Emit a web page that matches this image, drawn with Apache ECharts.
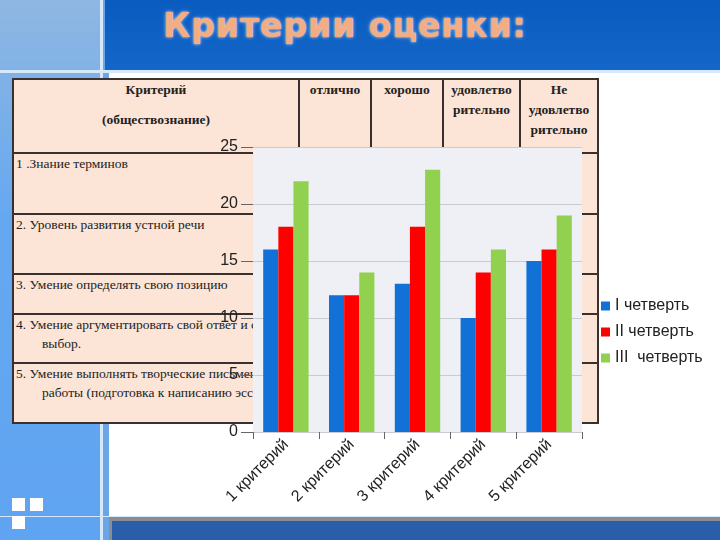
<!DOCTYPE html>
<html>
<head>
<meta charset="utf-8">
<script src="https://cdn.jsdelivr.net/npm/echarts@6/dist/echarts.min.js"></script>
<style>
  html, body { margin: 0; padding: 0; }
  body { width: 720px; height: 540px; position: relative; overflow: hidden; background: #fff; }
  .abs { position: absolute; }
  #title { left: 105px; top: 6px; width: 480px; text-align: center; font-family: "DejaVu Sans", sans-serif; font-weight: bold;
           font-size: 33px; color: #f3ad85; letter-spacing: 1px; text-shadow: 0 0 2px #ffd9c2, 0 0 4px #7fb2ee; }
  table { position: absolute; left: 12px; top: 78px; width: 585px; table-layout: fixed; border-collapse: collapse; background: #fce4d6;
          font-family: "Liberation Serif", "DejaVu Serif", serif; font-size: 13.5px; color: #222; }
  td { border: 2px solid #3a3030; vertical-align: top; padding: 0 2px; line-height: 19px; }
  th { border: 2px solid #3a3030; vertical-align: top; padding: 0 2px; line-height: 20px; font-weight: bold; font-size: 13.5px; text-align: center; }
  .hang { padding-left: 28px; text-indent: -26px; }
  #main { position: absolute; left: 0; top: 0; width: 720px; height: 540px; }
</style>
</head>
<body>
<div class="abs" style="left:0;top:0;width:100px;height:540px;background:linear-gradient(#8fb7e2,#66a8f0 40%,#5fa4f2);"></div>
<div class="abs" style="left:100px;top:0;width:3px;height:540px;background:#d8e8fb;"></div>
<div class="abs" style="left:103px;top:0;width:6px;height:540px;background:#6aa6e6;"></div>
<div class="abs" style="left:105px;top:0;width:615px;height:70px;background:linear-gradient(#0a5bbf,#1466c8);"></div>
<div class="abs" style="left:0;top:70px;width:720px;height:3px;background:#d8e8fb;"></div>
<div class="abs" style="left:0;top:516px;width:720px;height:1px;background:#d8e8fb;"></div>
<div class="abs" style="left:109px;top:517px;width:611px;height:23px;background:#8a8d92;"></div>
<div class="abs" style="left:112px;top:521px;width:608px;height:19px;background:#2a5eab;"></div>
<div class="abs" style="left:12px;top:498px;width:13px;height:13px;background:#fff;"></div>
<div class="abs" style="left:30px;top:498px;width:13px;height:13px;background:#fff;"></div>
<div class="abs" style="left:12px;top:516px;width:13px;height:13px;background:#fff;"></div>
<div id="title" class="abs">Критерии оценки:</div>

<table>
  <colgroup><col style="width:286px"><col style="width:72px"><col style="width:72px"><col style="width:77px"><col style="width:78px"></colgroup>
  <tr style="height:74px">
    <th><div>Критерий</div><div style="margin-top:10px">(обществознание)</div></th>
    <th>отлично</th>
    <th>хорошо</th>
    <th>удовлетво<br>рительно</th>
    <th>Не<br>удовлетво<br>рительно</th>
  </tr>
  <tr style="height:61px"><td>1 .Знание терминов</td><td></td><td></td><td></td><td></td></tr>
  <tr style="height:60px"><td>2. Уровень развития устной речи</td><td></td><td></td><td></td><td></td></tr>
  <tr style="height:40px"><td>3. Умение определять свою позицию</td><td></td><td></td><td></td><td></td></tr>
  <tr style="height:49px"><td class="hang">4. Умение аргументировать свой ответ и сделать выбор.</td><td></td><td></td><td></td><td></td></tr>
  <tr style="height:60px"><td class="hang">5. Умение выполнять творческие письменные работы (подготовка к написанию эссе)</td><td></td><td></td><td></td><td></td></tr>
</table>

<div id="main"></div>
<script>
var categories = ['1 критерий', '2 критерий', '3 критерий', '4 критерий', '5 критерий'];
var seriesNames = ['I четверть', 'II четверть', 'III  четверть'];
var q1 = [16, 12, 13, 10, 15];
var q2 = [18, 12, 18, 14, 16];
var q3 = [22, 14, 23, 16, 19];
var colors = ['#1271d6', '#ff0000', '#92d050'];

var myChart = echarts.init(document.getElementById('main'));
myChart.setOption({
  animation: false,
  color: colors,
  textStyle: { fontFamily: 'Liberation Sans, Arial, sans-serif' },
  grid: { left: 253, right: 138, top: 147, bottom: 108, show: true, backgroundColor: '#eef0f5', borderWidth: 0 },
  legend: {
    orient: 'vertical', left: 596, top: 293, itemWidth: 9, itemHeight: 9, itemGap: 10, icon: 'rect',
    data: seriesNames,
    textStyle: { fontSize: 16, color: '#222' }
  },
  xAxis: {
    type: 'category', data: categories,
    axisLine: { lineStyle: { color: '#c8cbd2' } },
    axisTick: { show: true, length: 7, lineStyle: { color: '#666' } },
    axisLabel: { interval: 0, rotate: 45, fontSize: 16, color: '#222', margin: 10 }
  },
  yAxis: {
    type: 'value', min: 0, max: 25, interval: 5,
    axisLine: { show: false },
    axisTick: { show: true, length: 12, lineStyle: { color: '#666' } },
    axisLabel: { fontSize: 16, color: '#222', margin: 15 },
    splitLine: { lineStyle: { color: '#c8cbd2' } }
  },
  series: [
    { name: seriesNames[0], type: 'bar', data: q1, barGap: '0%', barCategoryGap: '31%' },
    { name: seriesNames[1], type: 'bar', data: q2, barGap: '0%', barCategoryGap: '31%' },
    { name: seriesNames[2], type: 'bar', data: q3, barGap: '0%', barCategoryGap: '31%' }
  ]
});
</script>
</body>
</html>
